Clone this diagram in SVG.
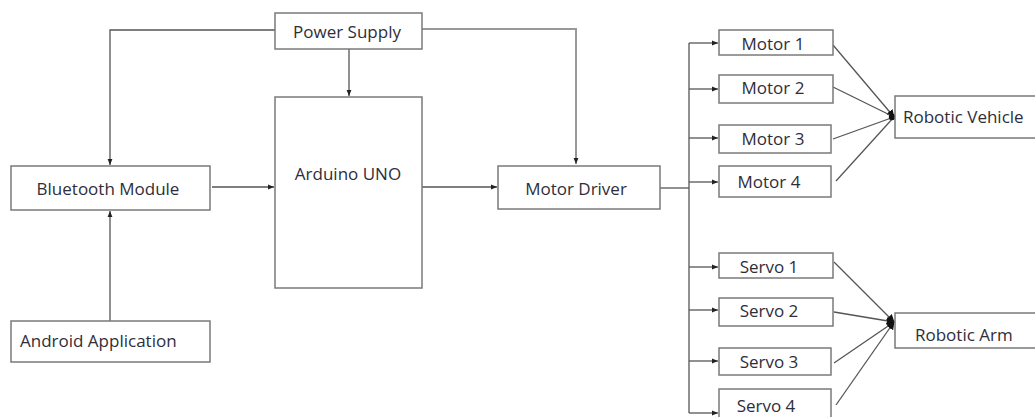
<svg xmlns="http://www.w3.org/2000/svg" width="1035" height="417" viewBox="0 0 1035 417">
<defs>
<style>
.box{fill:#fff;stroke:#7a7a7a;stroke-width:1.5}
.t{font-family:"Open Sans","Liberation Sans",sans-serif;font-size:17px;fill:#2e2e3a;dominant-baseline:central}
.c{text-anchor:middle}
.ln{fill:none;stroke:#555;stroke-width:1.3}
.lt{fill:none;stroke:#999;stroke-width:2}
</style>
<marker id="a" viewBox="0 0 10 10" refX="10" refY="5" markerWidth="6" markerHeight="6" orient="auto" markerUnits="userSpaceOnUse">
<path d="M0,1 L10,5 L0,9 z" fill="#222"/>
</marker>
<marker id="d" viewBox="0 0 10 10" refX="9" refY="5" markerWidth="8" markerHeight="8" orient="auto" markerUnits="userSpaceOnUse">
<path d="M0,0 L10,5 L0,10 z" fill="#111"/>
</marker>
</defs>
<g id="connectors">
<path class="ln" d="M275,30 H110 V165" marker-end="url(#a)"/>
<path class="ln" d="M349,49 V96" marker-end="url(#a)"/>
<path class="lt" d="M422,29 H576 V164" marker-end="url(#a)"/>
<path class="ln" d="M110,321 V211" marker-end="url(#a)"/>
<path class="ln" d="M212,187 H274" marker-end="url(#a)"/>
<path class="ln" d="M422,187 H497" marker-end="url(#a)"/>
<path class="ln" d="M660,188 H689"/>
<path class="ln" d="M689,43 V413"/>
<path class="ln" d="M689,43 H718" marker-end="url(#a)"/>
<path class="ln" d="M689,89 H718" marker-end="url(#a)"/>
<path class="ln" d="M689,138 H718" marker-end="url(#a)"/>
<path class="ln" d="M689,182 H718" marker-end="url(#a)"/>
<path class="ln" d="M689,267 H718" marker-end="url(#a)"/>
<path class="ln" d="M689,310 H718" marker-end="url(#a)"/>
<path class="ln" d="M689,361 H718" marker-end="url(#a)"/>
<path class="ln" d="M689,413 H718" marker-end="url(#a)"/>
<path class="ln" d="M833,45 L894,117" marker-end="url(#d)"/>
<path class="ln" d="M833,87 L894,117"/>
<path class="ln" d="M833,139 L894,117"/>
<path class="ln" d="M836,181 L894,117"/>
<circle cx="892" cy="117" r="3.2" fill="#111"/>
<path class="ln" d="M834,262 L894,322" marker-end="url(#d)"/>
<path class="ln" d="M834,312 L894,322" marker-end="url(#d)"/>
<path class="ln" d="M834,363 L894,322" marker-end="url(#d)"/>
<path class="ln" d="M836,405 L894,322" marker-end="url(#d)"/>
</g>
<g id="power"><rect class="box" x="275" y="13" width="147" height="36"/><text class="t c" x="347" y="31">Power Supply</text></g>
<g id="arduino"><rect class="box" x="275" y="97" width="147" height="191"/><text class="t c" x="348" y="173">Arduino UNO</text></g>
<g id="bluetooth"><rect class="box" x="11" y="166" width="199" height="44"/><text class="t c" x="108" y="188">Bluetooth Module</text></g>
<g id="android"><rect class="box" x="11" y="321" width="199" height="41"/><text class="t" x="20" y="340">Android Application</text></g>
<g id="driver"><rect class="box" x="498" y="166" width="162" height="43"/><text class="t c" x="576" y="188">Motor Driver</text></g>
<g id="motor1"><rect class="box" x="719" y="30" width="114" height="25"/><text class="t c" x="773" y="43">Motor 1</text></g>
<g id="motor2"><rect class="box" x="719" y="75" width="114" height="28"/><text class="t c" x="773" y="87">Motor 2</text></g>
<g id="motor3"><rect class="box" x="719" y="125" width="112" height="28"/><text class="t c" x="773" y="138">Motor 3</text></g>
<g id="motor4"><rect class="box" x="719" y="166" width="112" height="31"/><text class="t c" x="769" y="181">Motor 4</text></g>
<g id="vehicle"><rect class="box" x="895" y="96" width="145" height="42"/><text class="t" x="903" y="116">Robotic Vehicle</text></g>
<g id="servo1"><rect class="box" x="719" y="253" width="114" height="25"/><text class="t c" x="769" y="266">Servo 1</text></g>
<g id="servo2"><rect class="box" x="719" y="298" width="114" height="28"/><text class="t c" x="769" y="310">Servo 2</text></g>
<g id="servo3"><rect class="box" x="719" y="348" width="112" height="27"/><text class="t c" x="769" y="361">Servo 3</text></g>
<g id="servo4"><rect class="box" x="719" y="389" width="112" height="30"/><text class="t c" x="766" y="405">Servo 4</text></g>
<g id="arm"><rect class="box" x="895" y="313" width="145" height="35"/><text class="t" x="915" y="334">Robotic Arm</text></g>
</svg>
